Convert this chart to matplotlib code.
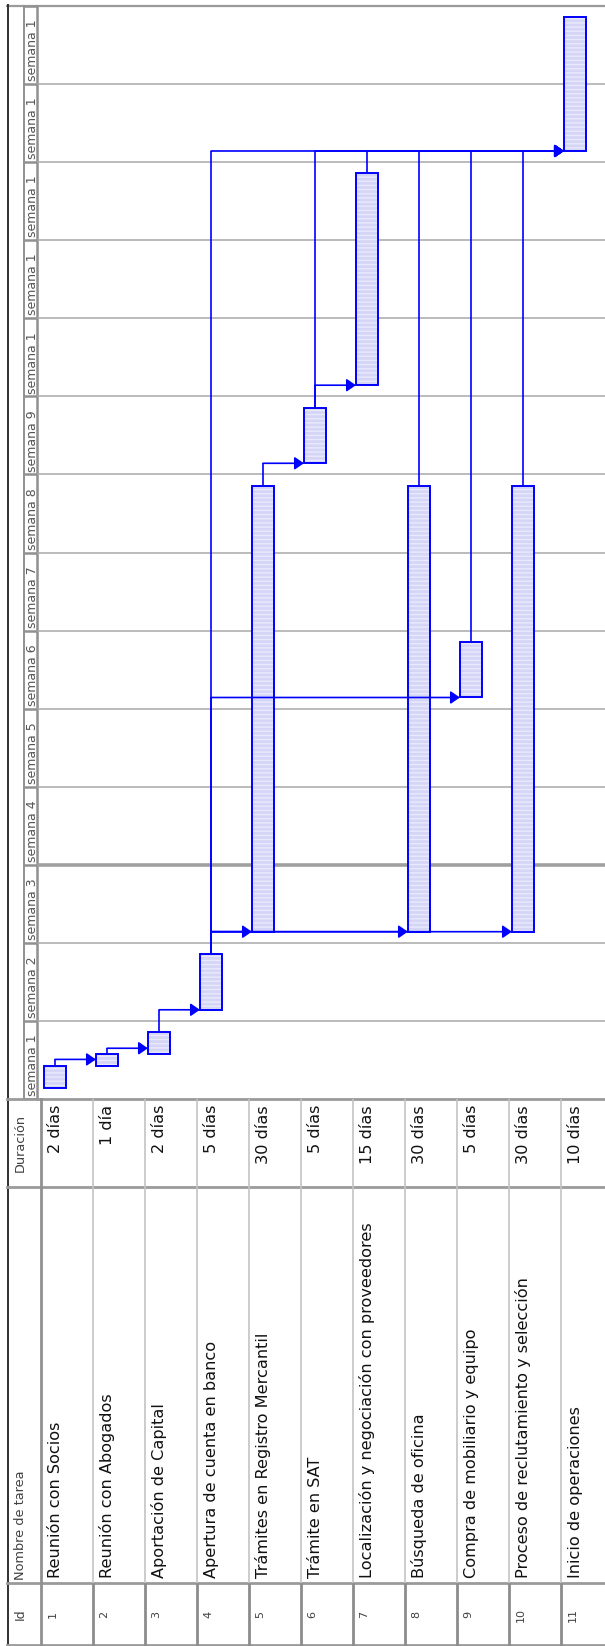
import numpy as np
import matplotlib
matplotlib.use('Agg')
import matplotlib.pyplot as plt

plt.rcParams['font.family'] = 'DejaVu Sans'
plt.rcParams['hatch.linewidth'] = 1.0

# Tareas del proyecto
ids = [1, 2, 3, 4, 5, 6, 7, 8, 9, 10, 11]
tareas = ['Reunión con Socios', 'Reunión con Abogados', 'Aportación de Capital',
          'Apertura de cuenta en banco', 'Trámites en Registro Mercantil',
          'Trámite en SAT', 'Localización y negociación con proveedores',
          'Búsqueda de oficina', 'Compra de mobiliario y equipo',
          'Proceso de reclutamiento y selección', 'Inicio de operaciones']
duraciones = ['2 días', '1 día', '2 días', '5 días', '30 días', '5 días',
              '15 días', '30 días', '5 días', '30 días', '10 días']
# dia de calendario (contando desde el domingo de la semana 1)
inicio = [1, 3, 4, 8, 15, 57, 64, 15, 36, 15, 85]
fin = [3, 4, 6, 13, 55, 62, 83, 55, 41, 55, 97]
# vinculos fin-comienzo (predecesora, sucesora)
enlaces = [(1, 2), (2, 3), (3, 4), (4, 5), (4, 8), (4, 10), (4, 9), (5, 6),
           (6, 7), (4, 11), (6, 11), (7, 11), (8, 11), (9, 11), (10, 11)]
semanas = ['semana 1', 'semana 2', 'semana 3', 'semana 4', 'semana 5',
           'semana 6', 'semana 7', 'semana 8', 'semana 9', 'semana 1',
           'semana 1', 'semana 1', 'semana 1', 'semana 1']
fecha_estado = 21

AZUL = '#0000ff'
RELLENO = '#d5d5f7'
RAYAS = '#eaeafd'
GRIS = '#9a9a9a'

W, H = 605, 1646
fila0, fila_w = 41.3, 52.0     # pixel donde empieza la fila 1 y ancho de fila
y_chart, y_dur, y_nom, y_id = 6, 1099, 1187, 1583
x_escala = 37
n_dias = 7 * len(semanas)

fig = plt.figure(figsize=(W / 100, H / 100), dpi=100)


def px_axes(x0, y0, x1, y1):
    a = fig.add_axes([x0 / W, 1 - y1 / H, (x1 - x0) / W, (y1 - y0) / H])
    a.set_axis_off()
    a.patch.set_alpha(0)
    return a


# fondo con los bordes de la tabla, en pixeles
bg = px_axes(0, 0, W, H)
bg.set_xlim(0, W)
bg.set_ylim(H, 0)
bg.plot([7, W], [5.5, 5.5], color=GRIS, lw=1.6)
bg.plot([7.5, 7.5], [4.5, H], color='#303030', lw=1.4)
bg.plot([23.5, 23.5], [y_chart, y_dur], color='#909090', lw=1.4)
bg.plot([x_escala, x_escala], [y_chart, y_dur], color='#909090', lw=1.8)
for yy in [y_dur, y_nom, y_id, H - 1.5]:
    bg.plot([7, W], [yy, yy], color=GRIS, lw=2.0)
bg.plot([fila0, fila0], [y_dur, H], color='#909090', lw=2.0)

bg.text(24, (y_id + H) / 2, 'Id', rotation=90, rotation_mode='anchor',
        ha='center', va='baseline', fontsize=9, color='#404040')
bg.text(24, y_id - 3, 'Nombre de tarea', rotation=90, rotation_mode='anchor',
        ha='left', va='baseline', fontsize=9.3, color='#404040')
bg.text(24, (y_dur + y_nom) / 2, 'Duración', rotation=90, rotation_mode='anchor',
        ha='center', va='baseline', fontsize=9.3, color='#404040')

# tabla de tareas: x en filas, y en pixeles
tab = px_axes(0, y_dur, W, H)
tab.set_xlim(-fila0 / fila_w, (W - fila0) / fila_w)
tab.set_ylim(H, y_dur)
sep = np.arange(1, len(ids))
tab.vlines(sep, y_dur, y_id, color='#c4c4c4', lw=1.2)
tab.vlines(sep, y_id, H, color='#8c8c8c', lw=2.0)
for i in range(len(ids)):
    xb = i + 0.36
    tab.text(xb, y_dur + 6, duraciones[i], rotation=90, rotation_mode='anchor',
             ha='right', va='baseline', fontsize=11.6, color='#111111')
    tab.text(xb, y_id - 5, tareas[i], rotation=90, rotation_mode='anchor',
             ha='left', va='baseline', fontsize=11.6, color='#111111')
    tab.text(i + 0.27, (y_id + H) / 2, str(ids[i]), rotation=90,
             rotation_mode='anchor', ha='center', va='baseline',
             fontsize=8, color='#404040')

# escala de tiempo (semanas)
esc = px_axes(23.5, y_chart, x_escala, y_dur)
esc.set_xlim(23.5, x_escala)
esc.set_ylim(0, n_dias)
esc.hlines(np.arange(0, n_dias + 1, 7), 23.5, x_escala, color='#909090', lw=1.8)
for k, s in enumerate(semanas):
    esc.text(35.8, 7 * k + 0.25, s, rotation=90, rotation_mode='anchor',
             ha='left', va='baseline', fontsize=9, color='#555555')

# diagrama de Gantt: x en filas, y en dias
ax = px_axes(x_escala, y_chart, W, y_dur)
ax.set_xlim((x_escala - fila0) / fila_w, (W - fila0) / fila_w)
ax.set_ylim(0, n_dias)
for k in range(1, len(semanas)):
    ax.axhline(7 * k, color='#a8a8a8', lw=1.1, zorder=1)
ax.axhline(fecha_estado, color='#a0a0a0', lw=2.6, zorder=1)

x = np.arange(len(ids))
ini = np.array(inicio)
dur = np.array(fin) - ini
off, ancho = 0.05, 0.43
ax.bar(x + off, dur, bottom=ini, width=ancho, align='edge', color=RELLENO,
       edgecolor=RAYAS, linewidth=0, hatch='----', zorder=3)
ax.bar(x + off, dur, bottom=ini, width=ancho, align='edge', fill=False,
       edgecolor=AZUL, linewidth=1.4, zorder=4)

# vinculos dibujados encima de las barras
for p, s in enlaces:
    xp = p - 1 + off + ancho / 2
    xs = s - 1 + off
    nivel = max(inicio[s - 1], fin[p - 1] + 0.55)
    ax.plot([xp, xp], [fin[p - 1], nivel], color=AZUL, lw=1.2, zorder=5,
            solid_capstyle='butt')
    ax.annotate('', xy=(xs, nivel), xytext=(xp, nivel),
                arrowprops=dict(arrowstyle='-|>,head_length=0.55,head_width=0.38',
                                color=AZUL, lw=1.2, shrinkA=0, shrinkB=0),
                zorder=5, annotation_clip=False)

fig.savefig('out.png', dpi=100, facecolor='white')
